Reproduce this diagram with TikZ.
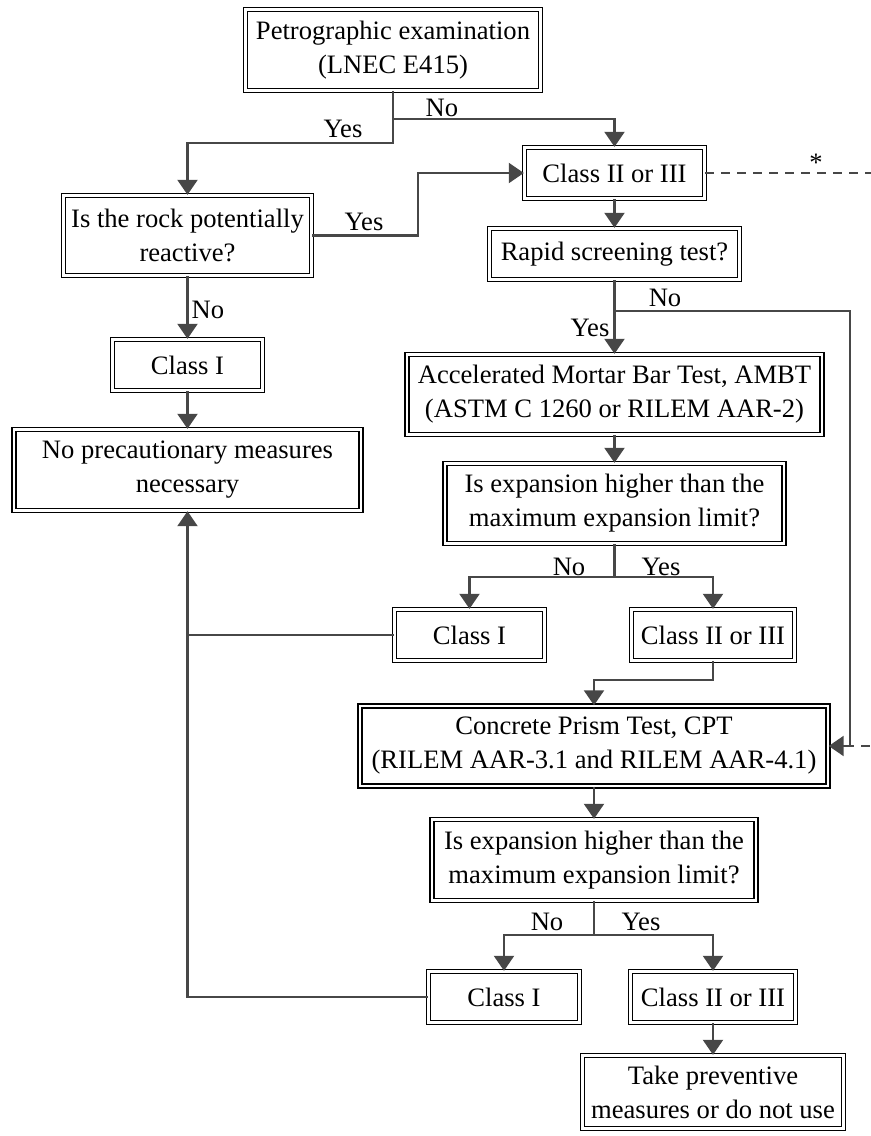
\documentclass[tikz,border=0pt]{standalone}
\usepackage{fontspec}
\setmainfont{Liberation Serif}
\usetikzlibrary{arrows.meta}

\definecolor{linkgray}{HTML}{474747}

\tikzset{
    box/.style={draw, double, double distance=1.2pt, line width=0.7pt,
        align=center, inner sep=0pt, font=\fontsize{13.3}{17}\selectfont},
    link/.style={draw=linkgray, line width=1.1pt,
        -{Triangle[length=7.5pt,width=10pt]}},
    plain/.style={draw=linkgray, line width=1.1pt},
    dashlink/.style={draw=linkgray, line width=1.1pt, dash pattern=on 4.5pt off 3.5pt},
    lab/.style={font=\fontsize{13.3}{15}\selectfont, inner sep=0pt}
}

\begin{document}
\begin{tikzpicture}[x=0.5pt,y=-0.5pt]
\useasboundingbox (0,0) rectangle (871,1136);

%Nodes
\node[box, minimum width=147.5pt, minimum height=40.5pt] (petro) at (393,50)
    {Petrographic examination\\(LNEC E415)};
\node[box, minimum width=124pt, minimum height=40pt] (rock) at (187.5,235.5)
    {Is the rock potentially\\reactive?};
\node[box, minimum width=90pt, minimum height=25.5pt] (cls2a) at (614.5,173)
    {Class II or III};
\node[box, minimum width=125pt, minimum height=25.5pt] (rapid) at (614.5,254)
    {Rapid screening test?};
\node[box, minimum width=75pt, minimum height=25.5pt] (cls1a) at (187.5,365)
    {Class I};
\node[box, minimum width=173.5pt, minimum height=40.5pt] (noprec) at (187.5,470)
    {No precautionary measures\\necessary};
\node[box, minimum width=207.5pt, minimum height=40pt] (ambt) at (614.5,394.5)
    {Accelerated Mortar Bar Test, AMBT\\(ASTM C 1260 or RILEM AAR-2)};
\node[box, minimum width=169.5pt, minimum height=40pt] (exp1) at (614.5,503.5)
    {Is expansion higher than the\\maximum expansion limit?};
\node[box, minimum width=75pt, minimum height=25.5pt] (cls1b) at (469.5,635)
    {Class I};
\node[box, minimum width=81.5pt, minimum height=25.5pt] (cls2b) at (713,635)
    {Class II or III};
\node[box, minimum width=234pt, minimum height=40pt] (cpt) at (594,746)
    {Concrete Prism Test, CPT\\(RILEM AAR-3.1 and RILEM AAR-4.1)};
\node[box, minimum width=162pt, minimum height=40.5pt] (exp2) at (594,860)
    {Is expansion higher than the\\maximum expansion limit?};
\node[box, minimum width=75.5pt, minimum height=25.5pt] (cls1c) at (504,997)
    {Class I};
\node[box, minimum width=82.5pt, minimum height=25.5pt] (cls2c) at (713,997)
    {Class II or III};
\node[box, minimum width=130.5pt, minimum height=36.5pt] (take) at (713,1092)
    {Take preventive\\measures or do not use};

%Labels
\node[lab] (yes1) at (343,129) {Yes};
\node[lab] (no1)  at (442,108) {No};
\node[lab] (yes2) at (364,222) {Yes};
\node[lab] (no2)  at (208,310) {No};
\node[lab] (no3)  at (665,298) {No};
\node[lab] (yes3) at (590,328) {Yes};
\node[lab] (no4)  at (569,567) {No};
\node[lab] (yes4) at (661,567) {Yes};
\node[lab] (no5)  at (547,922) {No};
\node[lab] (yes5) at (641,922) {Yes};
\node[lab] (star) at (816,163) {*};

\coordinate (join) at (850,746);

%Lines
\draw[link] (petro.south) -- (393,143) -| (rock.north);
\draw[link] (393,119) -| (cls2a.north);
\draw[link] (rock.east) -- (418,235.5) |- (cls2a.west);
\draw[link] (rock.south) -- (cls1a.north);
\draw[link] (cls1a.south) -- (noprec.north);
\draw[link] (cls2a.south) -- (rapid.north);
\draw[link] (rapid.south) -- (ambt.north);
\draw[link] (614.5,311) -| (join) -- (cpt.east);
\draw[dashlink] (cls2a.east) -- (885,173) -- (885,746) -- (join);
\draw[link] (ambt.south) -- (exp1.north);
\draw[plain] (exp1.south) -- (614.5,577);
\draw[link] (614.5,577) -| (cls1b.north);
\draw[link] (614.5,577) -| (cls2b.north);
\draw[link] (cls2b.south) -- (713,680) -| (cpt.north);
\draw[link] (cpt.south) -- (exp2.north);
\draw[plain] (exp2.south) -- (594,935);
\draw[link] (594,935) -| (cls1c.north);
\draw[link] (594,935) -| (cls2c.north);
\draw[plain] (cls1b.west) -- (187.5,635);
\draw[link] (cls1c.west) -- (187.5,997) -- (noprec.south);
\draw[link] (cls2c.south) -- (take.north);
\end{tikzpicture}
\end{document}
